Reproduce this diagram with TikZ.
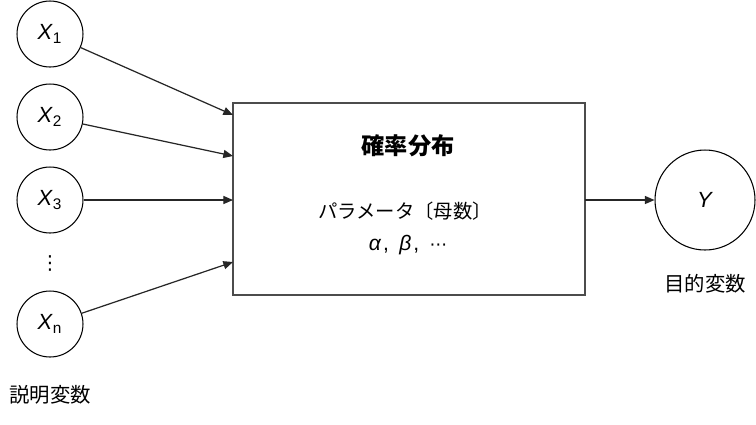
\documentclass[tikz,border=0pt]{standalone}
\usepackage{fontspec}
\setmainfont{Liberation Sans}
\newfontfamily\jpfont{Noto Sans CJK JP}
\newfontfamily\symfont{DejaVu Sans}
\usetikzlibrary{arrows.meta}

\tikzset{
  var/.style={draw, circle, line width=0.6pt, minimum size=1.32cm, inner sep=0pt, font=\fontsize{12.5}{13}\selectfont},
  link/.style={draw=black!85, line width=0.7pt, -{Triangle[length=5.5pt,width=4.6pt]}},
}

\begin{document}
\begin{tikzpicture}[x=0.02cm, y=-0.02cm]
    \useasboundingbox (0,0) rectangle (756,424);

    % explanatory variables
    \node[var] (x1) at (50,34) {\textit{X}\textsubscript{1}};
    \node[var] (x2) at (50,117) {\textit{X}\textsubscript{2}};
    \node[var] (x3) at (50,200) {\textit{X}\textsubscript{3}};
    \node (vdots) at (50,263) {\symfont\fontsize{11}{12}\selectfont ⋮};
    \node[var] (xn) at (50,324) {\textit{X}\textsubscript{n}};
    \node (xlabel) at (50,395) {\jpfont\fontsize{11.6}{12}\selectfont 説明変数};

    % distribution box
    \node[draw=black!70, line width=1.1pt, minimum width=7.04cm, minimum height=3.84cm] (dist) at (409,199) {};
    \node (title) at (408,146) {\jpfont\bfseries\fontsize{13.2}{14}\selectfont 確率分布};
    \node (param) at (405,211) {\jpfont\fontsize{11}{12}\selectfont パラメータ〔母数〕};
    \node (greek) at (408,245) {\fontsize{12}{13}\selectfont \textit{α}\kern1pt,\enspace\textit{β}\kern1pt,\enspace{\symfont\fontsize{10}{12}\selectfont ⋯}};

    \coordinate (in1) at (233,115);
    \coordinate (in2) at (233,156);
    \coordinate (in3) at (233,200);
    \coordinate (inn) at (233,262);
    \coordinate (out) at (585,200);

    % objective variable
    \node[var, minimum size=2cm] (y) at (705,200) {\textit{Y}};
    \node (ylabel) at (705,284) {\jpfont\fontsize{11.6}{12}\selectfont 目的変数};

    \draw[link] (x1) -- (in1);
    \draw[link] (x2) -- (in2);
    \draw[link] (x3) -- (in3);
    \draw[link] (xn) -- (inn);
    \draw[link] (out) -- (y);
\end{tikzpicture}
\end{document}
